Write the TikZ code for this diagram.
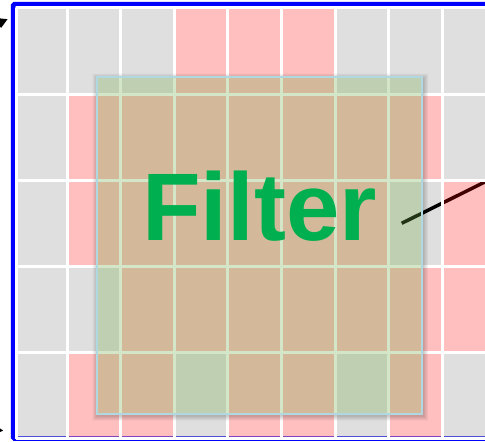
\documentclass[tikz,border=0pt]{standalone}
\usepackage{fontspec}
\setmainfont{Liberation Sans}
\definecolor{frameblue}{RGB}{0,0,255}
\definecolor{filtergreen}{RGB}{112,173,71}
\definecolor{filterborder}{RGB}{176,216,224}
\definecolor{labelgreen}{RGB}{0,176,80}
\begin{document}
\begin{tikzpicture}[x=1pt,y=-1pt,
  cellG/.style={fill=black, fill opacity=0.125},
  cellP/.style={fill=red, fill opacity=0.25},
  gridline/.style={draw=white, line width=3pt, line cap=square},
  framestyle/.style={draw=frameblue, line width=4.5pt, rounded corners=1.5pt},
  filterbox/.style={fill=filtergreen, fill opacity=0.3},
  filteredge/.style={draw=filterborder, line width=2pt},
  shadowring/.style={fill=black, fill opacity=0.045, even odd rule},
  tipstyle/.style={fill=black},
  labelstyle/.style={text=labelgreen, font=\fontsize{96}{96}\selectfont\bfseries, inner sep=0pt, anchor=base west},
  connector/.style={draw=black, line width=3.5pt}]
\useasboundingbox (0,0) rectangle (485,442);
\clip (0,0) rectangle (485,442);
\def\xs{{16,67,120.6,174.2,227.8,281.4,335,388.6,442.2,495.8}}
\def\ys{{7.8,94,180.2,266.4,352.6,438.8}}
% frame and connector (underneath the translucent cells)
\draw[framestyle] (13,4) rectangle (492,438.6);
\coordinate (lineA) at (401.7,223.3);
\coordinate (lineB) at (512,168.5);
\draw[connector] (lineA) -- (lineB);
% cells
\foreach \r/\pat in {1/{G,G,G,P,P,P,G,G,G},2/{G,P,P,P,P,P,P,P,G},3/{G,P,P,P,P,P,P,G,P},4/{G,G,P,P,P,P,P,P,P},5/{G,P,P,G,P,P,G,P,G}}{
  \foreach \t [count=\c] in \pat {
    \pgfmathsetmacro\xa{\xs[\c-1]}
    \pgfmathsetmacro\xb{\xs[\c]}
    \pgfmathsetmacro\ya{\ys[\r-1]}
    \pgfmathsetmacro\yb{\ys[\r]}
    \fill[cell\t] (\xa,\ya) rectangle (\xb,\yb);
  }
}
% white grid lines
\foreach \i in {0,...,9}{
  \pgfmathsetmacro\xx{\xs[\i]}
  \draw[gridline] (\xx,7.8) -- (\xx,438.8);
}
\foreach \j in {0,...,5}{
  \pgfmathsetmacro\yy{\ys[\j]}
  \draw[gridline] (16,\yy) -- (495.8,\yy);
}
% arrow tips at the left margin
\fill[tipstyle] (-1,18.3) -- (7.5,19.2) -- (1.2,27.8) -- (-1,26) -- cycle;
\fill[tipstyle] (-1,427.8) -- (3.2,430.6) -- (-1,432.5) -- cycle;
% filter shadow
\foreach \d in {1,...,5}{
  \fill[shadowring] (96.5-\d+1,76.5-\d+2) rectangle (422+\d+1,413.5+\d+2)
                    (96.5,76.5) rectangle (422,413.5);
}
% filter overlay
\path[filterbox] (96.5,76.5) rectangle (422,413.5);
\draw[filteredge] (96.5,76.5) rectangle (422,413.5);
\node[labelstyle] (filterlabel) at (142,240.7) {Filter};
\end{tikzpicture}
\end{document}
